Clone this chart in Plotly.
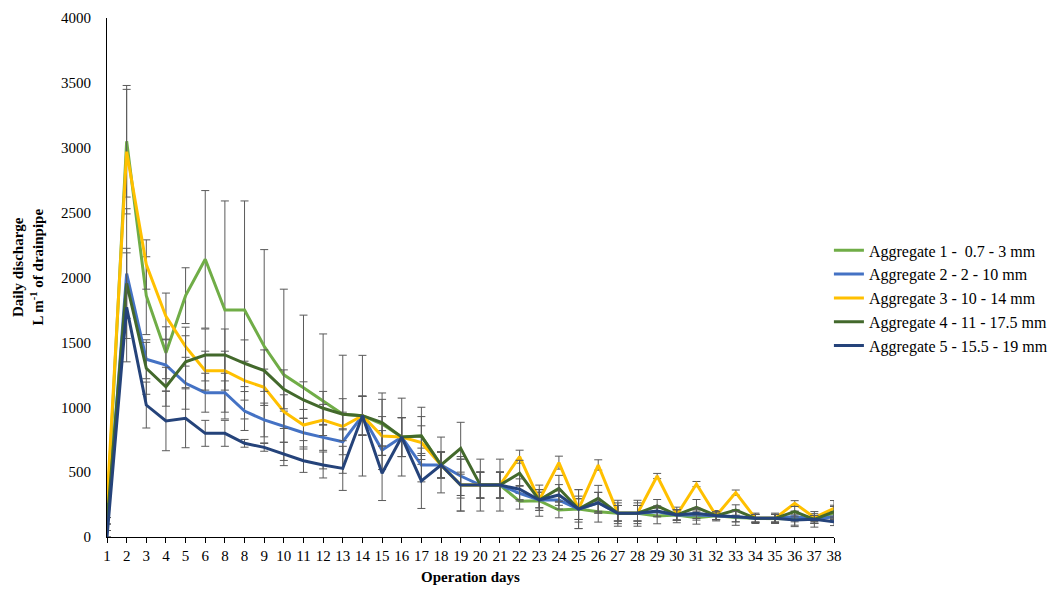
import plotly.graph_objects as go

# Category labels along the x axis (as printed on the axis)
day_labels = ["1", "2", "3", "4", "5", "6", "8", "8", "9", "10", "11", "12", "13",
              "14", "15", "16", "17", "18", "19", "20", "21", "22", "23", "24", "25",
              "26", "27", "28", "29", "30", "31", "32", "33", "34", "35", "36", "37", "38"]

# Daily discharge (L m-1 of drainpipe) per aggregate
agg1 = [150, 3050, 1860, 1420, 1860, 2140, 1750, 1750, 1470, 1250, 1150, 1045, 946,
        935, 870, 770, 780, 555, 400, 400, 400, 275, 280, 208, 215, 195, 183, 183,
        162, 170, 149, 164, 150, 144, 144, 140, 136, 185]
agg2 = [50, 2030, 1370, 1325, 1185, 1112, 1112, 971, 902, 850, 804, 768, 734,
        935, 670, 770, 555, 555, 470, 400, 400, 337, 285, 285, 215, 264, 183, 183,
        195, 170, 170, 164, 157, 144, 144, 157, 136, 157]
agg3 = [262, 2970, 2100, 1700, 1467, 1282, 1282, 1205, 1154, 966, 863, 902, 852,
        935, 778, 770, 727, 555, 400, 400, 400, 619, 285, 573, 215, 555, 183, 183,
        470, 170, 408, 164, 342, 144, 144, 260, 150, 221]
agg4 = [100, 1955, 1300, 1158, 1351, 1403, 1403, 1339, 1282, 1138, 1056, 992, 946,
        935, 881, 770, 778, 555, 684, 400, 400, 491, 285, 375, 215, 298, 183, 183,
        239, 170, 229, 164, 208, 144, 144, 195, 136, 195]
agg5 = [0, 1770, 1017, 894, 915, 799, 799, 722, 691, 640, 588, 555, 529,
        935, 491, 770, 432, 555, 400, 400, 400, 368, 285, 324, 215, 264, 183, 183,
        200, 170, 183, 164, 157, 144, 144, 131, 136, 118]

# Standard deviations shown as error bars
err1 = [0, 430, 300, 200, 215, 530, 840, 840, 745, 660, 560, 520, 455, 465, 240, 300,
        220, 215, 200, 200, 200, 60, 120, 60, 150, 80, 100, 100, 60, 60, 50, 40, 60,
        40, 40, 60, 60, 50]
err2 = [0, 500, 150, 200, 200, 150, 150, 150, 130, 120, 110, 100, 100, 150, 150, 150,
        130, 100, 150, 100, 100, 60, 60, 70, 80, 80, 60, 60, 40, 40, 40, 30, 40, 30,
        30, 40, 30, 40]
err3 = [0, 480, 190, 180, 150, 150, 150, 150, 140, 130, 120, 120, 110, 150, 150, 150,
        130, 100, 100, 100, 100, 50, 60, 50, 80, 40, 60, 60, 20, 40, 20, 30, 20, 30,
        30, 20, 30, 60]
err4 = [0, 270, 200, 150, 200, 200, 200, 180, 160, 150, 140, 130, 120, 150, 180, 150,
        150, 100, 200, 100, 100, 100, 80, 100, 100, 100, 60, 60, 50, 40, 60, 30, 40,
        30, 30, 40, 30, 50]
err5 = [0, 420, 177, 229, 227, 100, 100, 30, 30, 90, 90, 100, 170, 150, 210, 150,
        212, 100, 200, 100, 100, 80, 80, 80, 150, 80, 80, 80, 40, 40, 40, 30, 40, 30,
        30, 40, 30, 30]

names = ["Aggregate 1 -  0.7 - 3 mm", "Aggregate 2 - 2 - 10 mm",
         "Aggregate 3 - 10 - 14 mm", "Aggregate 4 - 11 - 17.5 mm",
         "Aggregate 5 - 15.5 - 19 mm"]
colors = ["#70AD47", "#4472C4", "#FFC000", "#43692C", "#25437A"]
series = [agg1, agg2, agg3, agg4, agg5]
errors = [err1, err2, err3, err4, err5]

xpos = list(range(1, len(day_labels) + 1))

fig = go.Figure()
for name, color, vals, err in zip(names, colors, series, errors):
    fig.add_trace(go.Scatter(
        x=xpos, y=vals, mode="lines", name=name,
        line=dict(color=color, width=3),
        error_y=dict(type="data", array=err, visible=True,
                     color="#5a5a5a", thickness=1, width=4),
        cliponaxis=False,
    ))

serif = "Liberation Serif"

fig.update_layout(
    width=1058, height=592,
    margin=dict(l=107, r=224, t=18, b=55, autoexpand=False),
    paper_bgcolor="white", plot_bgcolor="white",
    font=dict(family=serif, size=15, color="#000000"),
    showlegend=True,
    legend=dict(x=0.993, xanchor="left", y=0.585, yanchor="top",
                font=dict(family=serif, size=16, color="#000000"),
                itemwidth=30,
                bgcolor="rgba(0,0,0,0)", tracegroupgap=0),
    xaxis=dict(
        range=[1, 38], tickmode="array", tickvals=xpos, ticktext=day_labels,
        showline=True, linecolor="#000000", linewidth=1, mirror=False,
        ticks="outside", ticklen=5, tickcolor="#000000",
        showgrid=False, zeroline=False,
        tickfont=dict(family=serif, size=15, color="#000000"),
        title=dict(text="<b>Operation days</b>", standoff=8,
                   font=dict(family=serif, size=15, color="#000000")),
    ),
    yaxis=dict(
        range=[0, 4000], dtick=500,
        showline=True, linecolor="#000000", linewidth=1,
        ticks="", showgrid=False, zeroline=False,
        ticklabelstandoff=12,
        tickfont=dict(family=serif, size=15, color="#000000"),
    ),
    annotations=[dict(
        text="<b>Daily discharge<br>L m<sup>-1</sup> of drainpipe</b>",
        xref="paper", yref="paper", x=-0.108, y=0.52,
        xanchor="center", yanchor="middle", textangle=-90, showarrow=False,
        font=dict(family=serif, size=15, color="#000000"),
    )],
)

fig.write_html("out.html")
